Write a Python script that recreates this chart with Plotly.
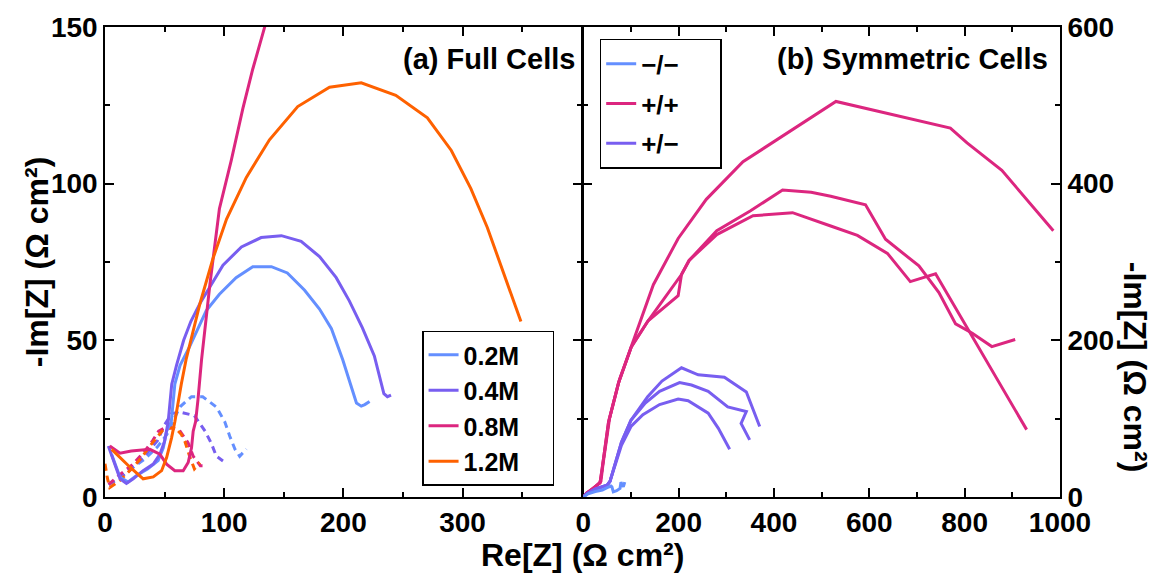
import plotly.graph_objects as go

# ---------------- data: (a) Full Cells ----------------
c02_x = [5.6, 12.6, 19.5, 26.5, 36, 44.6, 48.9, 51.7, 55.6, 58.6, 63, 71, 85, 96, 110, 124, 139.6, 153, 167.5, 180, 190, 199.5, 206, 211, 215, 218, 222]
c02_y = [13.6, 6.3, 4.8, 6.9, 9, 11.6, 15.7, 21, 24, 36, 42, 48, 59.5, 64.7, 70, 73.5, 73.5, 71.5, 66, 60, 53.7, 43.8, 36, 30, 29, 29.5, 30.5]

c04_x = [2.8, 12.6, 18, 23.7, 32, 40.5, 46, 50, 53, 56, 60, 66, 72, 80, 88, 99, 114.5, 131, 148, 164.6, 180, 194, 205, 216, 226, 231, 234, 237, 240]
c04_y = [16.3, 5.8, 4.3, 5.8, 8.4, 10.5, 13.6, 17.8, 24, 36, 42, 50, 56, 62, 67, 74, 79.8, 82.8, 83.4, 81.6, 76.7, 70, 62.6, 54, 45, 38, 33, 32, 32.5]

c08_x = [4, 12.6, 22, 37.7, 46, 51.7, 58.6, 65.6, 69.8, 72.6, 74, 76, 78, 81, 88, 96, 106, 115.7, 124, 134, 137]
c08_y = [16.3, 14, 14.7, 15.2, 13.7, 10.5, 8.4, 8.4, 11, 15.7, 21, 24, 31, 43.8, 67.8, 92, 107.5, 124, 136.6, 150, 156]

c12_x = [5.6, 21, 32, 40.5, 47.5, 51.7, 55.8, 58.6, 64, 68, 79.6, 90.5, 102, 118.6, 138, 161.7, 188.4, 215, 244, 270.5, 290.6, 307, 320.8, 332.5, 341, 349]
c12_y = [15.2, 9.5, 5.8, 6.4, 8.4, 12.6, 18.8, 24, 36, 43.8, 61.6, 76, 88.7, 102, 114, 124.6, 130.8, 132.2, 128.2, 121, 110.6, 98.4, 86, 73.4, 64, 56]

d02_x = [3, 12, 22, 33, 44, 52, 58, 63, 72.6, 82, 93.5, 100.5, 104.7, 109, 113, 118.6]
d02_y = [4, 6, 9, 12, 16, 20, 25, 28.8, 32, 32, 28.7, 24, 19.4, 15.3, 13, 15.3]

d04_x = [3, 12, 22, 33, 44, 50, 56, 64, 75, 84, 89, 93.5, 99]
d04_y = [4, 6, 9, 13, 18, 23, 26.7, 27, 26, 21, 17.3, 13, 11.5]

d08_x = [3, 12, 22, 32, 40, 45, 50, 57, 63, 69.7, 74, 77, 80, 84]
d08_y = [4, 7, 10, 14, 18, 21, 22, 22, 21, 17.3, 13, 11.5, 10, 10]

d12_x = [0, 2, 4, 12.6, 23.7, 30.7, 37.7, 44.7, 48.9, 54.4, 59, 64, 67, 71, 75, 79.6]
d12_y = [10.6, 6, 3, 5.3, 9.5, 12.6, 16.3, 19.4, 21.5, 22, 22, 20, 17.8, 13, 9, 11]

# ---------------- data: (b) Symmetric Cells ----------------
mm_x = [0, 10, 25, 40, 50, 58, 60, 63, 70, 77, 79, 84, 87]
mm_y = [0, 4, 7, 9, 12, 14, 13, 6.6, 8, 11, 19, 13, 19]

pp1_x = [0, 7, 20, 37, 41, 55, 76, 105, 147, 199, 258, 335, 415, 530, 770, 805, 878, 986]
pp1_y = [0, 5, 10, 20, 40, 100, 150, 200, 271, 330, 380, 428, 460, 505, 471, 452, 417, 340]
pp2_x = [0, 7, 18, 35, 39, 53, 74, 101, 136, 199, 206, 222, 280, 350, 418, 478, 519, 592, 634, 704, 746, 781, 816, 857, 906]
pp2_y = [0, 5, 10, 18, 34, 96, 146, 192, 225, 257, 284, 302, 340, 365, 392, 389, 384, 373, 329, 295, 261, 221, 209, 192, 201]
pp3_x = [0, 7, 18, 35, 39, 53, 74, 101, 136, 206, 222, 280, 356, 439, 519, 575, 638, 686, 739, 930]
pp3_y = [0, 5, 10, 18, 34, 96, 146, 192, 225, 284, 302, 335, 359, 363, 346, 334, 311, 275, 285, 86]

pm1_x = [0, 7, 25, 50, 56, 66, 80, 100, 135, 165, 206, 241, 296, 342, 356, 370]
pm1_y = [0, 4, 10, 15, 20, 42, 70, 98, 128, 148, 165, 156, 153, 134, 111, 90]
pm2_x = [0, 7, 25, 50, 56, 66, 80, 100, 130, 160, 202, 227, 262, 303, 342, 331, 349]
pm2_y = [0, 4, 10, 15, 20, 42, 70, 98, 120, 135, 146, 143, 135, 115, 109, 94, 73]
pm3_x = [0, 7, 25, 50, 56, 66, 80, 100, 125, 160, 199, 220, 262, 283, 307]
pm3_y = [0, 4, 10, 15, 20, 40, 66, 90, 105, 118, 125, 123, 107, 88, 61]

conc_labels = ["0.2M", "0.4M", "0.8M", "1.2M"]
sym_labels = ["\u2212/\u2212", "+/+", "+/\u2212"]

BLUE, PURPLE, MAGENTA, ORANGE = "#648FFF", "#785EF0", "#DC267F", "#FE6100"
FONT = "Liberation Sans, Arial, sans-serif"
LW = 3
PAD_L = "\u00a0" * 4   # widen legend boxes like the reference
PAD_R = "\u00a0" * 5

fig = go.Figure()

# dashed curves (panel a)
for xs, ys, col in [(d02_x, d02_y, BLUE), (d04_x, d04_y, PURPLE),
                    (d08_x, d08_y, MAGENTA), (d12_x, d12_y, ORANGE)]:
    fig.add_trace(go.Scatter(x=xs, y=ys, mode="lines", showlegend=False,
                             line=dict(color=col, width=3, dash="7px,5px"),
                             xaxis="x", yaxis="y"))

# solid curves (panel a)
for i, (xs, ys, col) in enumerate([(c02_x, c02_y, BLUE), (c04_x, c04_y, PURPLE),
                                   (c08_x, c08_y, MAGENTA), (c12_x, c12_y, ORANGE)]):
    fig.add_trace(go.Scatter(x=xs, y=ys, mode="lines", name=conc_labels[i] + PAD_L,
                             legend="legend", legendgroup=conc_labels[i],
                             line=dict(color=col, width=LW), xaxis="x", yaxis="y"))

# panel b
for j, (xs, ys) in enumerate([(pp1_x, pp1_y), (pp2_x, pp2_y), (pp3_x, pp3_y)]):
    fig.add_trace(go.Scatter(x=xs, y=ys, mode="lines", name=sym_labels[1] + PAD_R,
                             legend="legend2", legendgroup="pp", legendrank=2,
                             showlegend=(j == 0),
                             line=dict(color=MAGENTA, width=LW), xaxis="x2", yaxis="y2"))
for j, (xs, ys) in enumerate([(pm1_x, pm1_y), (pm2_x, pm2_y), (pm3_x, pm3_y)]):
    fig.add_trace(go.Scatter(x=xs, y=ys, mode="lines", name=sym_labels[2] + PAD_R,
                             legend="legend2", legendgroup="pm", legendrank=3,
                             showlegend=(j == 0),
                             line=dict(color=PURPLE, width=LW), xaxis="x2", yaxis="y2"))
fig.add_trace(go.Scatter(x=mm_x, y=mm_y, mode="lines", name=sym_labels[0] + PAD_R,
                         legend="legend2", legendgroup="mm", legendrank=1,
                         line=dict(color=BLUE, width=LW), xaxis="x2", yaxis="y2"))

tickfont = dict(family=FONT, size=28, color="black", weight="bold")
common = dict(showline=True, linewidth=1.6, linecolor="black", mirror="ticks",
              ticks="inside", ticklen=9, tickwidth=2, tickcolor="black",
              showgrid=False, zeroline=False, tickfont=tickfont)
minor_style = dict(ticks="inside", ticklen=5, tickwidth=1.5, tickcolor="black")
legfont = dict(family=FONT, size=25, color="black", weight="bold")
legfont2 = dict(family=FONT, size=26, color="black", weight="bold")
titlefont = dict(family=FONT, size=32, color="black", weight="bold")
panelfont = dict(family=FONT, size=29, color="black", weight="bold")

half = 0.8 / 955.0

fig.update_layout(
    width=1161, height=577,
    margin=dict(l=105, r=101, t=17, b=80),
    paper_bgcolor="white", plot_bgcolor="white",
    xaxis=dict(domain=[0, 0.5 - half], range=[0, 400], tickvals=[0, 100, 200, 300],
               minor=dict(tickvals=[50, 150, 250, 350], **minor_style),
               anchor="y", **common),
    yaxis=dict(range=[0, 150], tickvals=[0, 50, 100, 150],
               minor=dict(tickvals=[25, 75, 125], **minor_style),
               anchor="x", **common),
    xaxis2=dict(domain=[0.5 + half, 1], range=[0, 1000], tickvals=[0, 200, 400, 600, 800, 1000],
                minor=dict(tickvals=[100, 300, 500, 700, 900], **minor_style),
                anchor="y2", **common),
    yaxis2=dict(range=[0, 600], tickvals=[0, 200, 400, 600], side="right",
                minor=dict(tickvals=[100, 300, 500], **minor_style),
                anchor="x2", **common),
    legend=dict(x=0.332, y=0.354, xanchor="left", yanchor="top",
                bordercolor="black", borderwidth=1.5, bgcolor="white",
                font=legfont, tracegroupgap=0, traceorder="grouped"),
    legend2=dict(x=0.518, y=0.975, xanchor="left", yanchor="top",
                 bordercolor="black", borderwidth=1.5, bgcolor="white",
                 font=legfont2, tracegroupgap=3, traceorder="grouped"),
    annotations=[
        dict(text="Re[Z] (\u03a9 cm\u00b2)", x=0.5, y=-0.124, xref="paper", yref="paper",
             showarrow=False, xanchor="center", yanchor="middle", font=titlefont),
        dict(text="-Im[Z] (\u03a9 cm\u00b2)", x=-0.071, y=0.5, xref="paper", yref="paper",
             showarrow=False, xanchor="center", yanchor="middle", textangle=-90,
             font=titlefont),
        dict(text="-Im[Z] (\u03a9 cm\u00b2)", x=1.0785, y=0.275, xref="paper", yref="paper",
             showarrow=False, xanchor="center", yanchor="middle", textangle=90,
             font=titlefont),
        dict(text="(a) Full Cells", x=0.494, y=0.931, xref="paper", yref="paper",
             showarrow=False, xanchor="right", yanchor="middle", font=panelfont),
        dict(text="(b) Symmetric Cells", x=0.9895, y=0.931, xref="paper", yref="paper",
             showarrow=False, xanchor="right", yanchor="middle", font=panelfont),
    ],
)

fig.write_html("out.html")
